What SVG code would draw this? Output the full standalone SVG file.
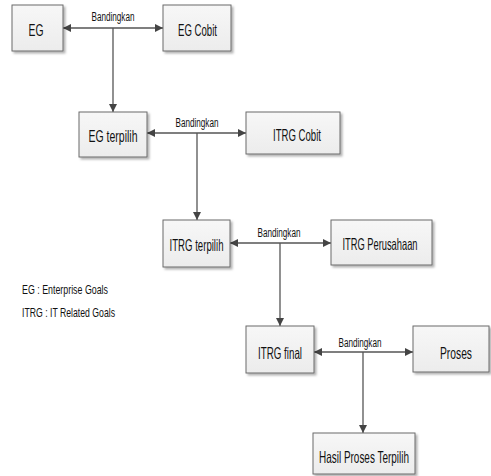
<svg xmlns="http://www.w3.org/2000/svg" width="491" height="476" viewBox="0 0 491 476">
<style>
.box{fill:url(#g);stroke:#6b6b6b;stroke-width:1;filter:url(#sh)}
.t{font-family:"Liberation Sans",Arial,sans-serif;font-size:16.5px;fill:#111;text-anchor:middle;dominant-baseline:central}
.lbl{font-family:"Liberation Sans",Arial,sans-serif;font-size:12px;fill:#111;text-anchor:middle}
.leg{font-family:"Liberation Sans",Arial,sans-serif;font-size:13.5px;fill:#111}
.c{stroke:#555;stroke-width:1.3;fill:none}
</style>
<defs>
<linearGradient id="g" x1="0" y1="0" x2="0" y2="1"><stop offset="0" stop-color="#f7f7f7"/><stop offset="1" stop-color="#ececec"/></linearGradient>
<filter id="sh" x="-10%" y="-10%" width="130%" height="140%"><feDropShadow dx="2" dy="2" stdDeviation="1" flood-color="#000" flood-opacity="0.3"/></filter>
<marker id="a" viewBox="0 0 10 10" refX="10" refY="5" markerWidth="8" markerHeight="8" markerUnits="userSpaceOnUse" orient="auto-start-reverse"><path d="M0,0 L10,5 L0,10 z" fill="#444"/></marker>
</defs>
<g id="connectors">
<line class="c" x1="63" y1="28" x2="163" y2="28" marker-start="url(#a)" marker-end="url(#a)"/>
<line class="c" x1="113" y1="28" x2="113" y2="112" marker-end="url(#a)"/>
<line class="c" x1="147" y1="133" x2="246" y2="133" marker-start="url(#a)" marker-end="url(#a)"/>
<line class="c" x1="197" y1="133" x2="197" y2="220" marker-end="url(#a)"/>
<line class="c" x1="230" y1="243" x2="331" y2="243" marker-start="url(#a)" marker-end="url(#a)"/>
<line class="c" x1="280" y1="243" x2="280" y2="326" marker-end="url(#a)"/>
<line class="c" x1="314" y1="352" x2="413" y2="352" marker-start="url(#a)" marker-end="url(#a)"/>
<line class="c" x1="363" y1="352" x2="363" y2="433" marker-end="url(#a)"/>
<text class="lbl" x="113" y="21" textLength="43" lengthAdjust="spacingAndGlyphs">Bandingkan</text>
<text class="lbl" x="197" y="127" textLength="43" lengthAdjust="spacingAndGlyphs">Bandingkan</text>
<text class="lbl" x="279" y="237" textLength="43" lengthAdjust="spacingAndGlyphs">Bandingkan</text>
<text class="lbl" x="360" y="347" textLength="43" lengthAdjust="spacingAndGlyphs">Bandingkan</text>
</g>
<g id="eg"><rect class="box" x="12" y="5" width="51" height="46"/><text class="t" x="36" y="30" textLength="15" lengthAdjust="spacingAndGlyphs">EG</text></g>
<g id="egcobit"><rect class="box" x="163" y="5" width="68" height="46"/><text class="t" x="197.5" y="30" textLength="39" lengthAdjust="spacingAndGlyphs">EG Cobit</text></g>
<g id="egterpilih"><rect class="box" x="79" y="112" width="68" height="45"/><text class="t" x="113" y="136" textLength="49" lengthAdjust="spacingAndGlyphs">EG terpilih</text></g>
<g id="itrgcobit"><rect class="box" x="246" y="112" width="94" height="42"/><text class="t" x="297" y="135" textLength="48" lengthAdjust="spacingAndGlyphs">ITRG Cobit</text></g>
<g id="itrgterpilih"><rect class="box" x="163" y="220" width="67" height="47"/><text class="t" x="196.5" y="245" textLength="54" lengthAdjust="spacingAndGlyphs">ITRG terpilih</text></g>
<g id="itrgperusahaan"><rect class="box" x="331" y="220" width="101" height="45"/><text class="t" x="380" y="244" textLength="75" lengthAdjust="spacingAndGlyphs">ITRG Perusahaan</text></g>
<g id="itrgfinal"><rect class="box" x="246" y="326" width="68" height="47"/><text class="t" x="280" y="353" textLength="44" lengthAdjust="spacingAndGlyphs">ITRG final</text></g>
<g id="proses"><rect class="box" x="413" y="326" width="76" height="46"/><text class="t" x="456" y="353" textLength="32" lengthAdjust="spacingAndGlyphs">Proses</text></g>
<g id="hasil"><rect class="box" x="313" y="433" width="102" height="41"/><text class="t" x="364" y="457" textLength="90" lengthAdjust="spacingAndGlyphs">Hasil Proses Terpilih</text></g>
<g id="legend">
<text class="leg" x="22" y="294" textLength="86" lengthAdjust="spacingAndGlyphs">EG : Enterprise Goals</text>
<text class="leg" x="22" y="317" textLength="93" lengthAdjust="spacingAndGlyphs">ITRG : IT Related Goals</text>
</g>
</svg>
